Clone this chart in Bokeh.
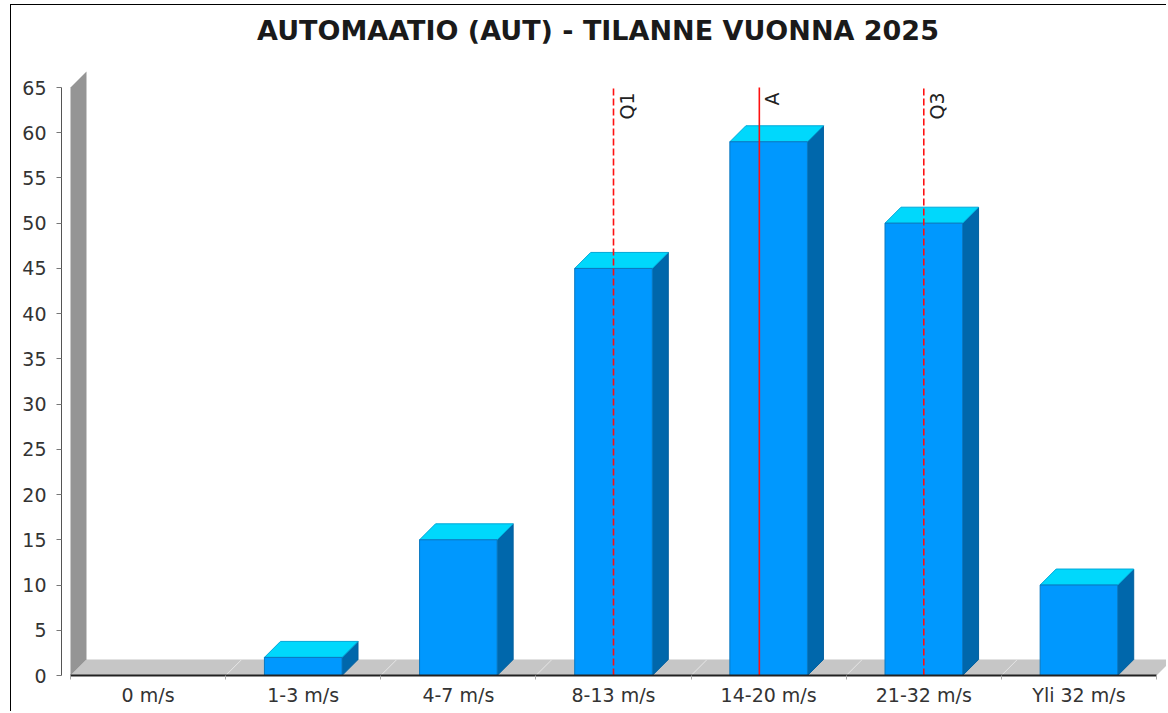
import math
from bokeh.plotting import figure
from bokeh.models import FixedTicker, Label
from bokeh.core.properties import value
from bokeh.embed import file_html
from bokeh.resources import INLINE

# ---------------- data ----------------
categories = ["0 m/s", "1-3 m/s", "4-7 m/s", "8-13 m/s", "14-20 m/s", "21-32 m/s", "Yli 32 m/s"]
counts = [0, 2, 15, 45, 59, 50, 10]
y_ticks = [0, 5, 10, 15, 20, 25, 30, 35, 40, 45, 50, 55, 60, 65]
marker_names = ["Q1", "A", "Q3"]
marker_positions = [3.5, 4.44, 5.5]
title_text = "AUTOMAATIO (AUT) - TILANNE VUONNA 2025"

# ---------------- layout ----------------
ORIGIN_X, ORIGIN_Y = 11, 5      # page position of the canvas
W, H = 1156, 707
LEFT = 50
FRAME_BOTTOM = 675 - ORIGIN_Y
BOTTOM = H - FRAME_BOTTOM
PX_X = 1086 / 7.0      # pixels per category
PX_Y = 588 / 65.0      # pixels per unit
x_start = -9 / PX_X
x_end = x_start + (W - LEFT) / PX_X
y_end = FRAME_BOTTOM / PX_Y
DX = 16 / PX_X
DY = 16 / PX_Y
Y_MAX = 65
N = len(categories)

FONT = "DejaVu Sans"

p = figure(width=W, height=H, x_range=(x_start, x_end), y_range=(0, y_end),
           output_backend="svg", toolbar_location=None,
           min_border_left=LEFT, min_border_right=0, min_border_top=0,
           min_border_bottom=BOTTOM, outline_line_color=None,
           background_fill_color="white", border_fill_color="white")
p.styles = {"border-left": "1px solid #000", "border-top": "1px solid #000",
            "margin-left": "10px", "margin-top": "4px"}
p.xgrid.visible = False
p.ygrid.visible = False

# floor
p.patch([0, DX, N + DX, N], [0, DY, DY, 0], fill_color="#c6c6c6", line_color=None)
p.segment(x0=list(range(1, N)), y0=[0] * (N - 1), x1=[b + DX for b in range(1, N)],
          y1=[DY] * (N - 1), line_color="#e6e6e6", line_width=1)
# wall
p.patch([0, 0, DX, DX], [0, Y_MAX, Y_MAX + DY, DY], fill_color="#959595", line_color=None)

# bars (3D)
hw = 0.25
xs_side, ys_side, xs_top, ys_top = [], [], [], []
fx, ft = [], []
for i, v in enumerate(counts):
    if v <= 0:
        continue
    c = i + 0.5
    xs_side.append([c + hw, c + hw, c + hw + DX, c + hw + DX])
    ys_side.append([0, v, v + DY, DY])
    xs_top.append([c - hw, c - hw + DX, c + hw + DX, c + hw])
    ys_top.append([v, v + DY, v + DY, v])
    fx.append(c)
    ft.append(v)
p.patches(xs_side, ys_side, fill_color="#0067ab", line_color="#005f9e", line_width=1)
p.patches(xs_top, ys_top, fill_color="#00d8fc", line_color="#00a8d8", line_width=1)
p.vbar(x=fx, top=ft, bottom=0, width=2 * hw, fill_color="#0098fe",
       line_color="#0a78c0", line_width=1)

# markers
for name, pos in zip(marker_names, marker_positions):
    dash = "solid" if name == "A" else "7 3"
    p.segment(x0=[pos], y0=[0], x1=[pos], y1=[Y_MAX], line_color="#ff1010",
              line_width=1.6, line_dash=dash)
p.text(x=marker_positions, y=[Y_MAX - 5 / PX_Y] * len(marker_positions), text=marker_names,
       angle=math.pi / 2, text_align="right", text_baseline="top", x_offset=2,
       text_font=value(FONT), text_font_size="19px", text_color="#222222")

# title
title_x = x_start + (597.5 - ORIGIN_X - LEFT) / PX_X
title_y = (675 - 29.5) / PX_Y
p.add_layout(Label(x=title_x, y=title_y, text=title_text, text_align="center",
                   text_baseline="alphabetic", text_font=FONT, text_font_style="bold",
                   text_font_size="27px", text_color="#1a1a1a"))

# x axis
centers = [i + 0.5 for i in range(N)]
p.xaxis.ticker = FixedTicker(ticks=centers, minor_ticks=list(range(N + 1)))
p.xaxis.major_label_overrides = {c: cat for c, cat in zip(centers, categories)}
p.xaxis.bounds = (0, N)
p.xaxis.axis_line_color = "#222222"
p.xaxis.axis_line_width = 2
p.xaxis.major_tick_line_color = None
p.xaxis.major_tick_out = 4
p.xaxis.major_tick_in = 0
p.xaxis.minor_tick_out = 4
p.xaxis.minor_tick_in = 0
p.xaxis.minor_tick_line_color = "#aaaaaa"
p.xaxis.major_label_standoff = 4
p.xaxis.major_label_text_font = FONT
p.xaxis.major_label_text_font_size = "19px"
p.xaxis.major_label_text_color = "#333333"

# y axis
p.yaxis.ticker = FixedTicker(ticks=y_ticks)
p.yaxis.bounds = (0, Y_MAX)
p.yaxis.axis_line_color = "#555555"
p.yaxis.major_tick_out = 5
p.yaxis.major_tick_in = 0
p.yaxis.major_tick_line_color = "#777777"
p.yaxis.minor_tick_line_color = None
p.yaxis.major_label_standoff = 10
p.yaxis.major_label_text_font = FONT
p.yaxis.major_label_text_font_size = "19px"
p.yaxis.major_label_text_color = "#333333"

open("out.html", "w").write(file_html(p, INLINE))
